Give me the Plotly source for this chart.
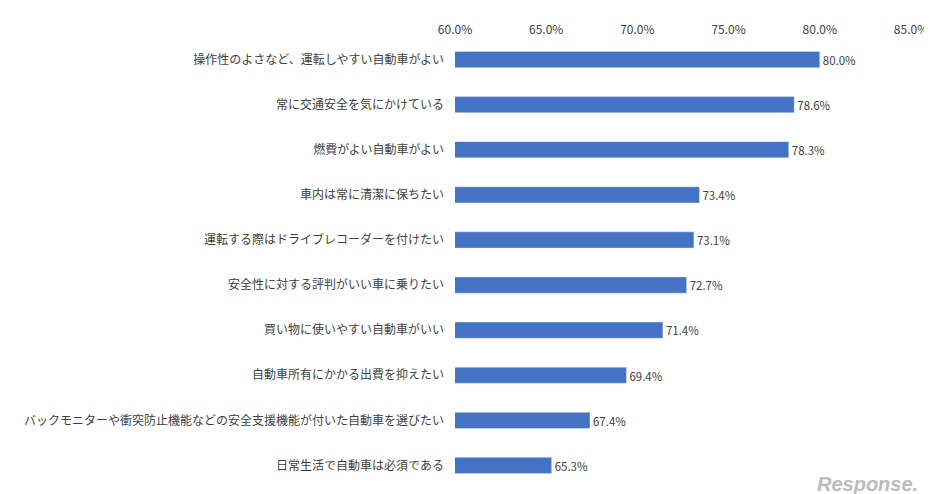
import plotly.graph_objects as go

categories = [
    "操作性のよさなど、運転しやすい自動車がよい",
    "常に交通安全を気にかけている",
    "燃費がよい自動車がよい",
    "車内は常に清潔に保ちたい",
    "運転する際はドライブレコーダーを付けたい",
    "安全性に対する評判がいい車に乗りたい",
    "買い物に使いやすい自動車がいい",
    "自動車所有にかかる出費を抑えたい",
    "バックモニターや衝突防止機能などの安全支援機能が付いた自動車を選びたい",
    "日常生活で自動車は必須である",
]
values = [80.0, 78.6, 78.3, 73.4, 73.1, 72.7, 71.4, 69.4, 67.4, 65.3]
tick_vals = [60, 65, 70, 75, 80, 85]
tick_text = [f"{v:.1f}%" for v in tick_vals]

fig = go.Figure(go.Bar(
    x=values, y=categories, orientation="h",
    marker_color="#4472C4", width=0.36,
    text=[f"{v:.1f}%" for v in values], textposition="outside",
    textfont=dict(size=12, color="#404040"), cliponaxis=False,
))
fig.update_layout(
    width=932, height=494,
    margin=dict(l=447, r=27, t=28, b=14),
    plot_bgcolor="white", paper_bgcolor="white",
    font=dict(family="Noto Sans CJK JP", size=12, color="#404040"),
    showlegend=False,
)
fig.update_xaxes(range=[60, 85], side="top", tickvals=tick_vals, ticktext=tick_text,
                 showgrid=False, zeroline=False, showline=False, ticks="")
fig.update_yaxes(autorange="reversed", showgrid=False, ticks="", ticklabelstandoff=10)
fig.add_annotation(text="<i><b>Response.</b></i>", xref="paper", yref="paper",
                   x=1.02, y=-0.02, xanchor="right", yanchor="bottom", showarrow=False,
                   font=dict(size=20, color="#bbbbbb", family="Liberation Sans"))
fig.write_html("out.html")
